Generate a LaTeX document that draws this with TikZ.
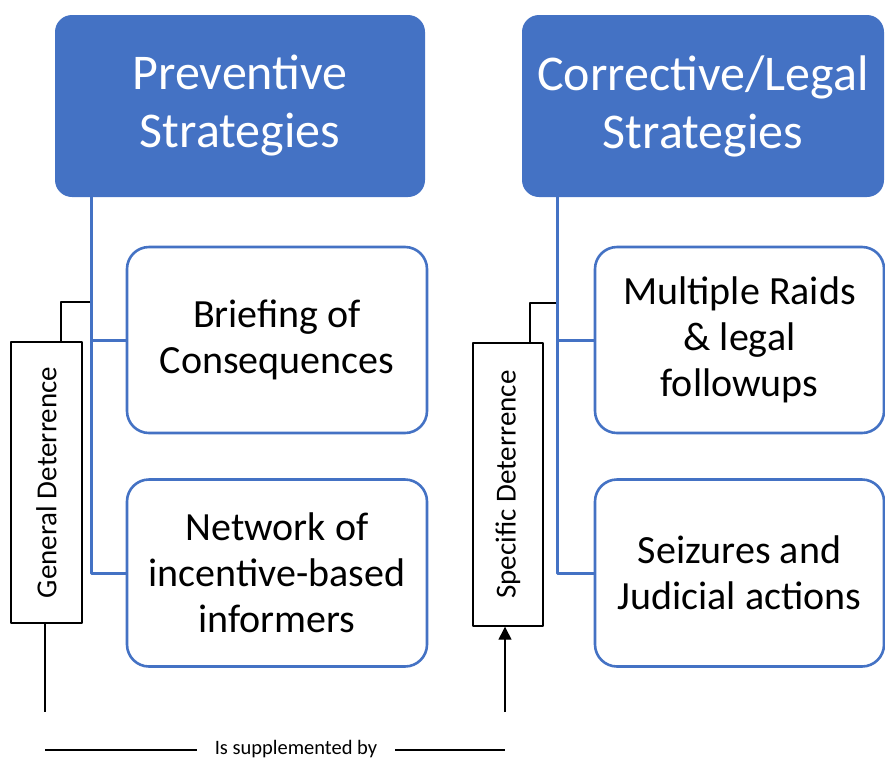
\documentclass[tikz,border=0pt]{standalone}
\usepackage{fontspec}
\setmainfont{Carlito}
\usetikzlibrary{arrows.meta}
\definecolor{stratblue}{HTML}{4472C4}
\begin{document}
\begin{tikzpicture}[x=1pt,y=-1pt,line join=round,
	>={Triangle[length=13pt,width=13pt]},
	head/.style={fill=stratblue,draw=none,rounded corners=17pt,text=white,align=center,
		inner sep=0pt,minimum height=182pt,font=\fontsize{50}{58}\selectfont},
	item/.style={fill=white,draw=stratblue,line width=2.6pt,rounded corners=22pt,align=center,
		inner sep=0pt,font=\fontsize{40}{46}\selectfont},
	deter/.style={draw=black,line width=1.4pt,rotate=90,inner sep=0pt,
		font=\fontsize{29}{32}\selectfont},
	trunk/.style={draw=stratblue,line width=3pt},
	link/.style={draw=black,line width=1.4pt}]
	\useasboundingbox (0,0) rectangle (885,758);
	
	% two strategy headings
	\node[head,minimum width=370pt] (prev) at (240,106) {Preventive\\Strategies};
	\node[head,minimum width=362pt] (corr) at (703,106) {Corrective/Legal\\Strategies};
	
	% items under each heading
	\node[item,minimum width=300pt,minimum height=186pt] (brief) at (277,340) {Briefing of\\Consequences};
	\node[item,minimum width=300pt,minimum height=187pt] (network) at (277,573) {Network of\\incentive-based\\informers};
	\node[item,minimum width=289pt,minimum height=186pt] (raids) at (739.5,340) {Multiple Raids\\\& legal\\followups};
	\node[item,minimum width=289pt,minimum height=187pt] (seizures) at (739.5,573) {Seizures and\\Judicial actions};
	
	% trunks
	\coordinate (ptop) at (91,197);
	\coordinate (ctop) at (557,197);
	\draw[trunk] (ptop) |- (network.west);
	\draw[trunk] (ptop |- brief.west) -- (brief.west);
	\draw[trunk] (ctop) |- (seizures.west);
	\draw[trunk] (ctop |- raids.west) -- (raids.west);
	
	% deterrence side boxes (rotated: east is the top, west the bottom)
	\node[deter,minimum width=281pt,minimum height=71pt] (gendet) at (46.5,482.5) {General Deterrence};
	\node[deter,minimum width=283pt,minimum height=70pt] (specdet) at (508,484.5) {Specific Deterrence};
	
	\coordinate (gtap) at (90,302);
	\coordinate (stap) at (556,303);
	\draw[link] (gtap) -| ([xshift=14.5pt]gendet.east);
	\draw[link] (stap) -| ([xshift=22pt]specdet.east);
	
	% bottom link
	\node[font=\fontsize{20.5}{22}\selectfont,inner sep=0pt] (supp) at (296,749) {Is supplemented by};
	\coordinate (gfoot) at (45,712);
	\coordinate (sfoot) at (505,712);
	\coordinate (lend) at (45,750);
	\coordinate (rend) at (505,750);
	\draw[link] (gendet.west -| gfoot) -- (gfoot);
	\draw[link,->] (sfoot) -- (sfoot |- specdet.west);
	\draw[link] (lend) -- ([xshift=-18pt]supp.west |- lend);
	\draw[link] ([xshift=18pt]supp.east |- rend) -- (rend);
\end{tikzpicture}
\end{document}
